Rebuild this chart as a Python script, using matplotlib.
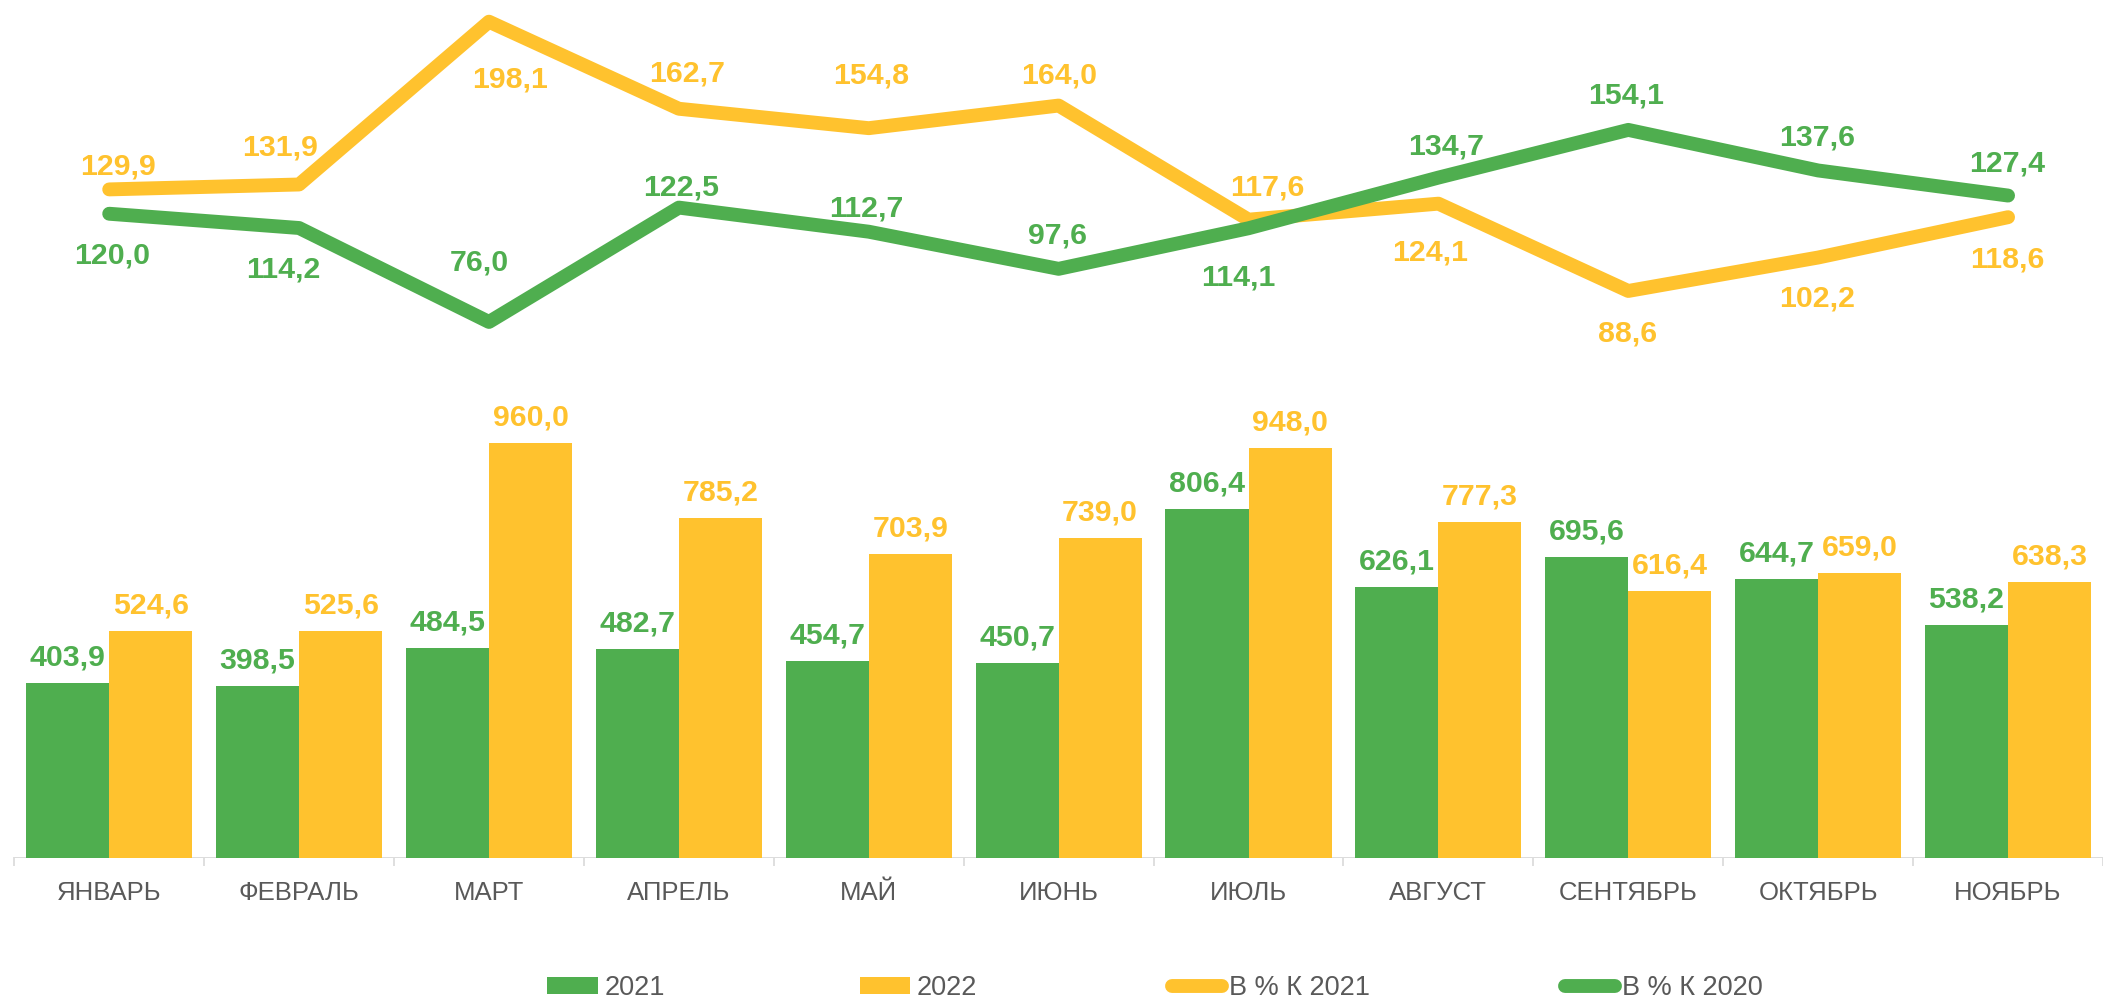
import matplotlib
matplotlib.use("Agg")
import matplotlib.pyplot as plt
from matplotlib.patches import Patch
from matplotlib.lines import Line2D
import numpy as np

# ---------------- data ----------------
months = ["ЯНВАРЬ", "ФЕВРАЛЬ", "МАРТ", "АПРЕЛЬ", "МАЙ", "ИЮНЬ", "ИЮЛЬ",
          "АВГУСТ", "СЕНТЯБРЬ", "ОКТЯБРЬ", "НОЯБРЬ"]
vol_2021 = [403.9, 398.5, 484.5, 482.7, 454.7, 450.7, 806.4, 626.1, 695.6, 644.7, 538.2]
vol_2022 = [524.6, 525.6, 960.0, 785.2, 703.9, 739.0, 948.0, 777.3, 616.4, 659.0, 638.3]
pct_2021 = [129.9, 131.9, 198.1, 162.7, 154.8, 164.0, 117.6, 124.1, 88.6, 102.2, 118.6]
pct_2020 = [120.0, 114.2, 76.0, 122.5, 112.7, 97.6, 114.1, 134.7, 154.1, 137.6, 127.4]
legend_labels = ["2021", "2022", "В % К 2021", "В % К 2020"]

# label offsets (pixels: dx right, dy = label-centre below point)
off_2021 = [(9, -26), (-19, -40), (21, 55), (8, -38), (2, -56), (0, -33),
            (19, -35), (-8, 46), (-1, 40), (-1, 38), (-1, 39)]
off_2020 = [(3, 39), (-16, 38), (-10, -62), (2, -23), (-2, -26), (-1, -36),
            (-10, 46), (8, -34), (-2, -37), (-1, -36), (-1, -35)]

# ---------------- style ----------------
GREEN = "#4FAE4F"
YELLOW = "#FFC22E"
GREY = "#595959"
AXIS = "#D9D9D9"
FONT = "Liberation Sans"
VAL_FS = 21.8
CAT_FS = 18.5
LEG_FS = 19.5

W, H = 2103, 999
fig = plt.figure(figsize=(W / 100, H / 100), dpi=100)
base_y = 858
ax = fig.add_axes([0, (H - base_y) / H, 1, base_y / H])
ax2 = ax.twinx()

x = np.arange(len(months))
bw = 0.4376

ax.bar(x - bw, vol_2021, width=bw, align="edge", color=GREEN, zorder=2)
ax.bar(x, vol_2022, width=bw, align="edge", color=YELLOW, zorder=2)

ax.set_xlim(-110 / 191.27, (W - 110) / 191.27)
ax.set_ylim(0, base_y / 0.4325)
top2 = 198.1 + 21.7 / 2.459
ax2.set_ylim(top2 - base_y / 2.459, top2)

for a in (ax, ax2):
    for s in a.spines.values():
        s.set_visible(False)
    a.set_yticks([])
ax2.set_xlim(ax.get_xlim())

# category axis line and boundary ticks
ax.axhline(0, color=AXIS, lw=1.3, zorder=1, xmin=(-0.5 - ax.get_xlim()[0]) / (ax.get_xlim()[1] - ax.get_xlim()[0]))
ax.set_xticks(np.arange(len(months) + 1) - 0.5)
ax.set_xticklabels([])
ax.tick_params(axis="x", direction="out", length=5.8, width=1.2, color=AXIS)

for i, m in enumerate(months):
    ax.annotate(m, xy=(i, 0), xycoords=("data", "axes fraction"),
                xytext=(0, -42), textcoords="offset pixels",
                ha="center", va="baseline", fontsize=CAT_FS, color=GREY,
                family=FONT, annotation_clip=False)

# bar value labels
def fmt(v):
    return f"{v:.1f}".replace(".", ",")

for i in range(len(months)):
    ax.annotate(fmt(vol_2021[i]), xy=(i - bw / 2, vol_2021[i]), xytext=(0, 17.5),
                textcoords="offset pixels", ha="center", va="baseline",
                fontsize=VAL_FS, fontweight="bold", color=GREEN, family=FONT,
                annotation_clip=False, zorder=5)
    ax.annotate(fmt(vol_2022[i]), xy=(i + bw / 2, vol_2022[i]), xytext=(0, 17.5),
                textcoords="offset pixels", ha="center", va="baseline",
                fontsize=VAL_FS, fontweight="bold", color=YELLOW, family=FONT,
                annotation_clip=False, zorder=5)

# lines
LW = 10
ax2.plot(x, pct_2021, color=YELLOW, lw=LW, solid_capstyle="round",
         solid_joinstyle="round", zorder=3)
ax2.plot(x, pct_2020, color=GREEN, lw=LW, solid_capstyle="round",
         solid_joinstyle="round", zorder=4)

for vals, offs, col in ((pct_2021, off_2021, YELLOW), (pct_2020, off_2020, GREEN)):
    for i, v in enumerate(vals):
        dx, dy = offs[i]
        ax2.annotate(fmt(v), xy=(i, v), xytext=(dx, -(dy + 11)),
                     textcoords="offset pixels", ha="center", va="baseline",
                     fontsize=VAL_FS, fontweight="bold", color=col, family=FONT,
                     annotation_clip=False, zorder=6)

# legend
handles = [Patch(facecolor=GREEN, edgecolor="none"),
           Patch(facecolor=YELLOW, edgecolor="none"),
           Line2D([0], [0], color=YELLOW, lw=LW, solid_capstyle="round"),
           Line2D([0], [0], color=GREEN, lw=LW, solid_capstyle="round")]
leg = fig.legend(handles, legend_labels, loc="center",
                 bbox_to_anchor=(1155 / W, 0.011), ncol=4, frameon=False,
                 prop={"family": FONT, "size": LEG_FS},
                 handlelength=1.85, handleheight=0.55, handletextpad=0.25,
                 columnspacing=7.2, borderpad=0, borderaxespad=0)
for t in leg.get_texts():
    t.set_color(GREY)

fig.savefig("out.png", dpi=100)
